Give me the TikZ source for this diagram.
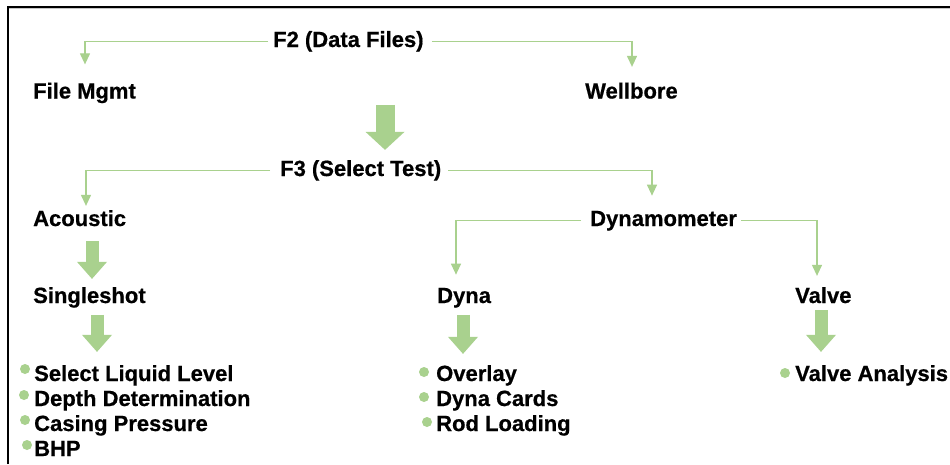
\documentclass[tikz,border=0pt]{standalone}
\usepackage{fontspec}
\setmainfont{Liberation Sans}[BoldFeatures={FakeBold=0.6}]
\usetikzlibrary{arrows.meta,calc}
\definecolor{grn}{RGB}{169,209,142}
\begin{document}
\begin{tikzpicture}[x=1pt,y=-1pt,
  txt/.style={inner sep=0pt, anchor=base west, font=\bfseries\fontsize{22}{26}\selectfont, text=black},
  conn/.style={draw=grn, line width=1.2pt, -{Triangle[width=10pt,length=11pt]}},
  blk/.style={draw=grn, line width=13pt, -{Triangle[width=30pt,length=17pt,line width=0pt]}},
  bigblk/.style={draw=grn, line width=19pt, -{Triangle[width=39pt,length=18pt,line width=0pt]}},
  dot/.style={fill=grn}]

\useasboundingbox (0,0) rectangle (950,464);
\fill[white] (0,0) rectangle (950,464);
\draw[gray!45, line width=0.8pt] (9,8.6) -- (950,8.6);
\draw[black, line width=2pt] (8.3,464) -- (8.3,6.5) -- (950,6.5);

% texts
\node[txt] (f2) at (273,47) {F2 (Data Files)};
\node[txt] (fm) at (33,98.5) {File Mgmt};
\node[txt] (wb) at (585,98.5) {Wellbore};
\node[txt] (f3) at (280,176) {F3 (Select Test)};
\node[txt] (ac) at (33,226) {Acoustic};
\node[txt] (dm) at (590,226) {Dynamometer};
\node[txt] (ss) at (33,303) {Singleshot};
\node[txt] (dy) at (437,303) {Dyna};
\node[txt] (va) at (795,303) {Valve};
\node[txt] (l1) at (34,381) {Select Liquid Level};
\node[txt] (l2) at (34,406) {Depth Determination};
\node[txt] (l3) at (34,431) {Casing Pressure};
\node[txt] (l4) at (34,456) {BHP};
\node[txt] (m1) at (436,381) {Overlay};
\node[txt] (m2) at (436,406) {Dyna Cards};
\node[txt] (m3) at (436,431) {Rod Loading};
\node[txt] (r1) at (795,381) {Valve Analysis};

% bullets
\coordinate (b1) at ($(l1.base west)+(-9,-12)$);
\coordinate (b2) at ($(l2.base west)+(-10,-11)$);
\coordinate (b3) at ($(l3.base west)+(-9,-11)$);
\coordinate (b4) at ($(l4.base west)+(-7,-11)$);
\coordinate (b5) at ($(m1.base west)+(-12,-9)$);
\coordinate (b6) at ($(m2.base west)+(-12,-9)$);
\coordinate (b7) at ($(m3.base west)+(-9,-9)$);
\coordinate (b8) at ($(r1.base west)+(-10,-8)$);
\foreach \b in {b1,b2,b3,b4,b5,b6,b7,b8} \fill[dot] (\b) circle [radius=5pt];

% thin connectors
\draw[conn] ([xshift=-5pt]f2.west) -| ($(fm.north west)+(52,-18)$);
\draw[conn] ([xshift=8pt]f2.east) -| ($(wb.north west)+(47,-15.5)$);
\draw[conn] ([xshift=-10pt]f3.west) -| ($(ac.north west)+(53,-4)$);
\draw[conn] ([xshift=7pt]f3.east) -| ($(dm.north west)+(62,-15)$);
\draw[conn] ([xshift=-9pt]dm.west) -| ($(dy.north west)+(19,-13)$);
\draw[conn] ([xshift=4pt]dm.east) -| ($(va.north west)+(22,-11)$);

% block arrows
\draw[bigblk] ($(f3.north west)+(105,-55)$) -- ($(f3.north west)+(105,-10)$);
\draw[blk] ($(ac.south west)+(59,15)$) -- ($(ss.north west)+(59,-8)$);
\draw[blk] ($(ss.south west)+(64,7)$) -- ($(l1.north west)+(63,-13)$);
\draw[blk] ($(dy.south west)+(26,7)$) -- ($(m1.north west)+(27,-11)$);
\draw[blk] ($(va.south west)+(26,7)$) -- ($(r1.north west)+(26,-13)$);
\end{tikzpicture}
\end{document}
